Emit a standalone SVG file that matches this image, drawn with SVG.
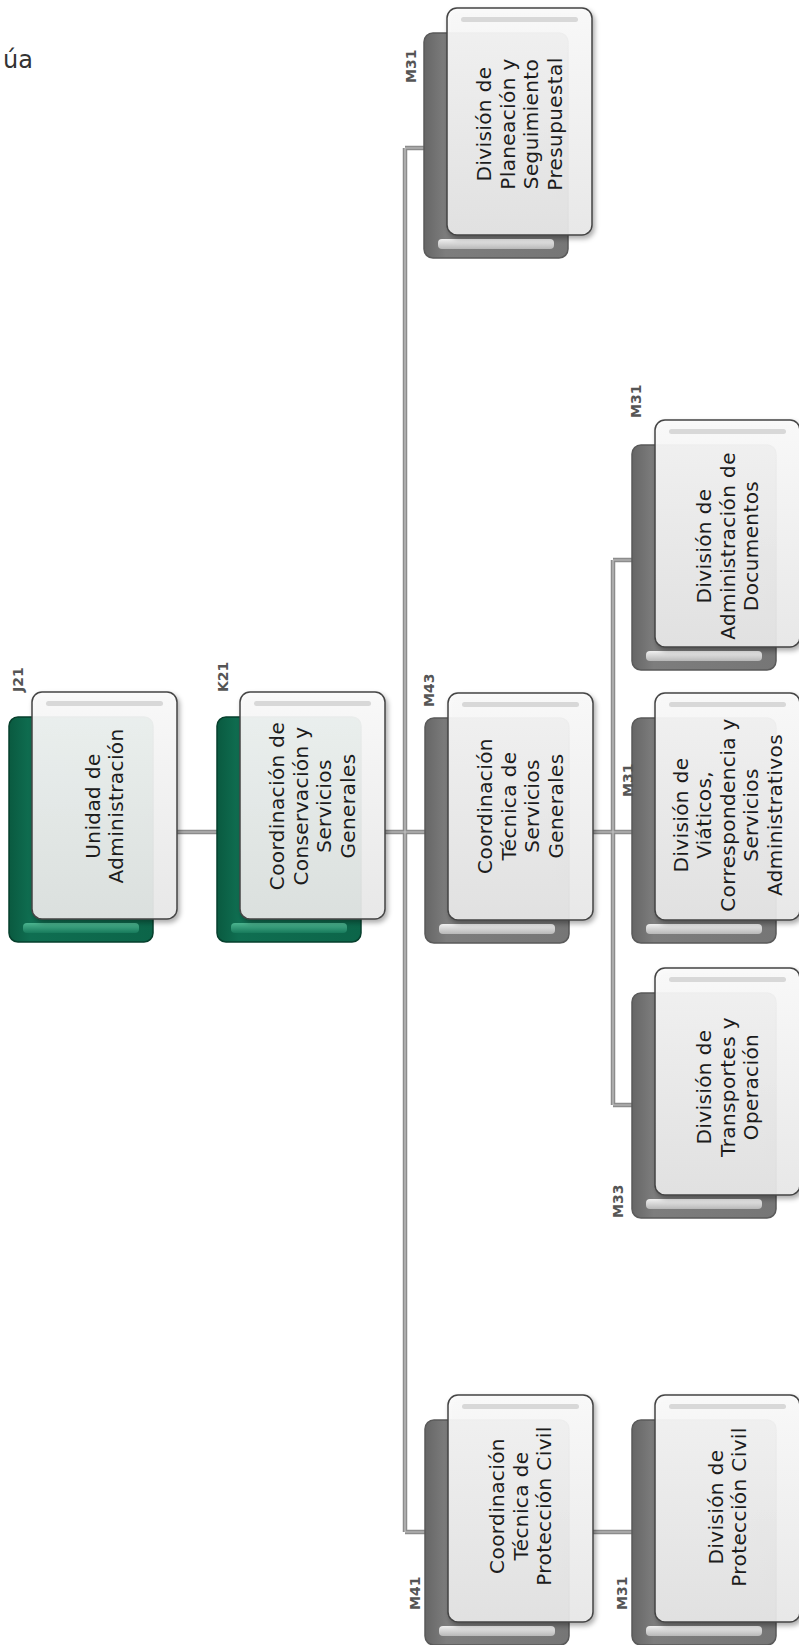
<svg xmlns="http://www.w3.org/2000/svg" xmlns:xlink="http://www.w3.org/1999/xlink" width="799" height="1645" viewBox="0 0 799 1645">
<style>
.t{font-family:"DejaVu Sans","Liberation Sans",sans-serif;font-size:20px;fill:#1c1c1c;text-anchor:middle;letter-spacing:0.4px}
.lbl{font-family:"DejaVu Sans","Liberation Sans",sans-serif;font-size:14px;font-weight:bold;fill:#555}
.co{fill:none;stroke:#8c8c8c;stroke-width:4.5}
.ci{fill:none;stroke:#c2c2c2;stroke-width:1.2}
</style>
<defs>
<filter id="sh" x="-10%" y="-10%" width="125%" height="125%"><feDropShadow dx="2" dy="3" stdDeviation="2.5" flood-color="#000" flood-opacity="0.35"/></filter>
<linearGradient id="grn" x1="0" y1="0" x2="1" y2="0"><stop offset="0" stop-color="#0a5a40"/><stop offset="0.15" stop-color="#0f6e51"/><stop offset="1" stop-color="#0c6549"/></linearGradient>
<linearGradient id="grnBar" x1="0" y1="0" x2="0" y2="1"><stop offset="0" stop-color="#4cb48f"/><stop offset="1" stop-color="#177a5b"/></linearGradient>
<linearGradient id="gry" x1="0" y1="0" x2="1" y2="0"><stop offset="0" stop-color="#666"/><stop offset="0.15" stop-color="#7d7d7d"/><stop offset="1" stop-color="#767676"/></linearGradient>
<linearGradient id="gryBar" x1="0" y1="0" x2="0" y2="1"><stop offset="0" stop-color="#f0f0f0"/><stop offset="1" stop-color="#b8b8b8"/></linearGradient>
<linearGradient id="frt" x1="0" y1="0" x2="0" y2="1"><stop offset="0" stop-color="#fbfbfb"/><stop offset="1" stop-color="#e9e9e9"/></linearGradient>
<g id="backGreen"><rect x="-23" y="25" width="144" height="225" rx="9" fill="url(#grn)" stroke="#063f2c" stroke-width="1.5"/><rect x="-9" y="231" width="116" height="10" rx="4" fill="url(#grnBar)"/></g>
<g id="backGray"><rect x="-23" y="25" width="144" height="225" rx="9" fill="url(#gry)" stroke="#5a5a5a" stroke-width="1.5"/><rect x="-9" y="231" width="116" height="10" rx="4" fill="url(#gryBar)"/></g>
<g id="front"><rect x="0" y="0" width="145" height="227" rx="10" fill="url(#frt)" fill-opacity="0.92" stroke="#444" stroke-width="1.5" filter="url(#sh)"/><rect x="14" y="9" width="117" height="5" rx="2.5" fill="#d8d8d8"/></g>
</defs>
<rect width="799" height="1645" fill="#fff"/>
<text x="33" y="68" text-anchor="end" style="font-family:'DejaVu Sans','Liberation Sans',sans-serif;font-size:24px;fill:#333">úa</text>
<g id="connectors">
<path class="co" d="M177 832H217M385 832H425M405 148V1532M405 148H425M405 1532H425M593 832H633M613 560V1105M613 560H633M613 1105H633M593 1532H633"/>
<path class="ci" d="M177 832H217M385 832H425M405 148V1532M405 148H425M405 1532H425M593 832H633M613 560V1105M613 560H633M613 1105H633M593 1532H633"/>
</g>
<g id="n1" transform="translate(32,692)"><use href="#backGreen"/><use href="#front"/>
<g transform="translate(72.5,114) rotate(-90)"><text class="t" y="-4.75">Unidad de</text><text class="t" y="18.75">Administración</text></g></g>
<g id="n2" transform="translate(240,692)"><use href="#backGreen"/><use href="#front"/>
<g transform="translate(72.5,114) rotate(-90)"><text class="t" y="-28.25">Coordinación de</text><text class="t" y="-4.75">Conservación y</text><text class="t" y="18.75">Servicios</text><text class="t" y="42.25">Generales</text></g></g>
<g id="n3" transform="translate(448,693)"><use href="#backGray"/><use href="#front"/>
<g transform="translate(72.5,113) rotate(-90)"><text class="t" y="-28.25">Coordinación</text><text class="t" y="-4.75">Técnica de</text><text class="t" y="18.75">Servicios</text><text class="t" y="42.25">Generales</text></g></g>
<g id="n4" transform="translate(447,8)"><use href="#backGray"/><use href="#front"/>
<g transform="translate(72.5,116) rotate(-90)"><text class="t" y="-28.25">División de</text><text class="t" y="-4.75">Planeación y</text><text class="t" y="18.75">Seguimiento</text><text class="t" y="42.25">Presupuestal</text></g></g>
<g id="n5" transform="translate(655,420)"><use href="#backGray"/><use href="#front"/>
<g transform="translate(72.5,126) rotate(-90)"><text class="t" y="-16.5">División de</text><text class="t" y="7">Administración de</text><text class="t" y="30.5">Documentos</text></g></g>
<g id="n6" transform="translate(655,693)"><use href="#backGray"/><use href="#front"/>
<g transform="translate(72.5,122) rotate(-90)"><text class="t" y="-40">División de</text><text class="t" y="-16.5">Viáticos,</text><text class="t" y="7">Correspondencia y</text><text class="t" y="30.5">Servicios</text><text class="t" y="54">Administrativos</text></g></g>
<g id="n7" transform="translate(655,968)"><use href="#backGray"/><use href="#front"/>
<g transform="translate(72.5,119) rotate(-90)"><text class="t" y="-16.5">División de</text><text class="t" y="7">Transportes y</text><text class="t" y="30.5">Operación</text></g></g>
<g id="n8" transform="translate(448,1395)"><use href="#backGray"/><use href="#front"/>
<g transform="translate(72.5,111) rotate(-90)"><text class="t" y="-16.5">Coordinación</text><text class="t" y="7">Técnica de</text><text class="t" y="30.5">Protección Civil</text></g></g>
<g id="n9" transform="translate(655,1395)"><use href="#backGray"/><use href="#front"/>
<g transform="translate(72.5,112) rotate(-90)"><text class="t" y="-4.75">División de</text><text class="t" y="18.75">Protección Civil</text></g></g>
<g id="labels">
<text class="lbl" transform="translate(22.5,692) rotate(-90)">J21</text>
<text class="lbl" transform="translate(227.5,692) rotate(-90)">K21</text>
<text class="lbl" transform="translate(433.5,707) rotate(-90)">M43</text>
<text class="lbl" transform="translate(415.5,83) rotate(-90)">M31</text>
<text class="lbl" transform="translate(640.5,418) rotate(-90)">M31</text>
<text class="lbl" transform="translate(632.5,797) rotate(-90)">M31</text>
<text class="lbl" transform="translate(622.5,1218) rotate(-90)">M33</text>
<text class="lbl" transform="translate(419.5,1610) rotate(-90)">M41</text>
<text class="lbl" transform="translate(626.5,1610) rotate(-90)">M31</text>
</g>
</svg>
